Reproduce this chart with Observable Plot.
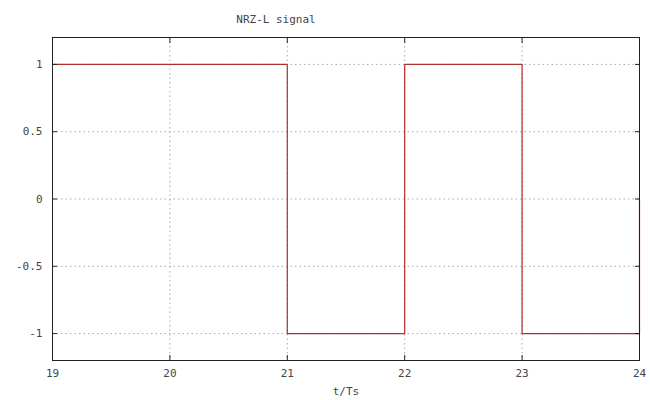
<!DOCTYPE html>
<html>
<head>
<meta charset="utf-8">
<script src="https://cdn.jsdelivr.net/npm/d3@7"></script>
<script src="https://cdn.jsdelivr.net/npm/@observablehq/plot@0.6"></script>
<style>
  html, body { margin: 0; padding: 0; background: #fff; }
  svg { display: block; }
</style>
</head>
<body>
<div id="chart"></div>
<script>
const title = "NRZ-L signal";
const xLabel = "t/Ts";
const bitTimes = [19, 20, 21, 22, 23, 24];
const bitLevels = [1, 1, -1, 1, -1, 0];
const xTicks = [19, 20, 21, 22, 23, 24];
const yTicks = [-1, -0.5, 0, 0.5, 1];
const yTickLabels = ["-1", "-0.5", "0", "0.5", "1"];

const signal = bitTimes.map((t, i) => ({t, v: bitLevels[i]}));
const font = "DejaVu Sans Mono, monospace";
const txt = "#444";

const chart = Plot.plot({
  width: 650,
  height: 400,
  marginLeft: 52,
  marginRight: 11,
  marginTop: 37,
  marginBottom: 40,
  style: {fontFamily: font, fontSize: "11px", color: txt, background: "#fff"},
  x: {domain: [19, 24], ticks: xTicks},
  y: {domain: [-1.2, 1.2], ticks: yTicks},
  marks: [
    Plot.gridX(xTicks, {stroke: "#aaa", strokeOpacity: 1, strokeDasharray: "1.5,3"}),
    Plot.gridY(yTicks, {stroke: "#aaa", strokeOpacity: 1, strokeDasharray: "1.5,3"}),
    Plot.line(signal, {x: "t", y: "v", curve: "step-after", stroke: "#b03030", strokeWidth: 1.2}),
    Plot.frame({stroke: "#222", strokeWidth: 1}),
    Plot.axisX(xTicks, {anchor: "bottom", tickSize: -5, tickPadding: 14, label: null, tickFormat: d => String(d), fill: txt, stroke: "#222"}),
    Plot.axisX(xTicks, {anchor: "top", tickSize: -5, label: null, tickFormat: () => "", stroke: "#222"}),
    Plot.axisY(yTicks, {anchor: "left", tickSize: -5, tickPadding: 15, label: null, tickFormat: d => yTickLabels[yTicks.indexOf(d)], fill: txt, stroke: "#222"}),
    Plot.axisY(yTicks, {anchor: "right", tickSize: -5, label: null, tickFormat: () => "", stroke: "#222"}),
    Plot.text([title], {frameAnchor: "top", dx: -70, dy: -22, fill: txt, fontSize: 11}),
    Plot.text([xLabel], {frameAnchor: "bottom", dy: 34, fill: txt, fontSize: 11})
  ]
});
document.getElementById("chart").appendChild(chart);
</script>
</body>
</html>
